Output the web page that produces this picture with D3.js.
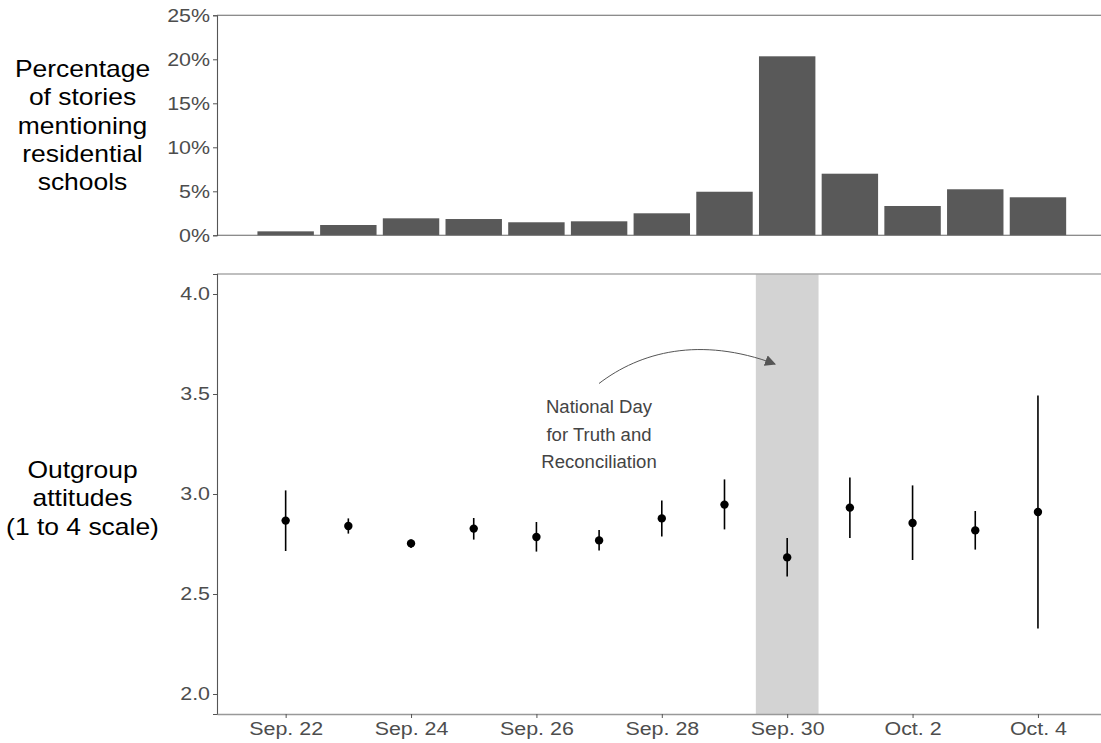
<!DOCTYPE html>
<html>
<head>
<meta charset="utf-8">
<script src="https://cdn.jsdelivr.net/npm/d3@7"></script>
<style>
  html, body { margin: 0; padding: 0; background: #fff; }
  svg { display: block; font-family: "Liberation Sans", Arial, Helvetica, sans-serif; }
</style>
</head>
<body>
<svg id="chart" width="1101" height="743"></svg>
<script>
// Days covered by both panels
const days = ["Sep. 22", "Sep. 23", "Sep. 24", "Sep. 25", "Sep. 26", "Sep. 27", "Sep. 28",
              "Sep. 29", "Sep. 30", "Oct. 1", "Oct. 2", "Oct. 3", "Oct. 4"];
const tickDays = ["Sep. 22", "Sep. 24", "Sep. 26", "Sep. 28", "Sep. 30", "Oct. 2", "Oct. 4"];

// Share of stories mentioning residential schools (%)
const storyShare = [0.45, 1.17, 1.93, 1.85, 1.48, 1.59, 2.5, 4.95, 20.34, 7.0, 3.33, 5.23, 4.32];

// Outgroup attitudes: estimate with lower / upper interval bounds
const attitude = [2.867, 2.840, 2.753, 2.827, 2.785, 2.768, 2.878, 2.947, 2.683, 2.932, 2.855, 2.818, 2.910];
const attLow   = [2.715, 2.802, 2.730, 2.772, 2.712, 2.718, 2.788, 2.823, 2.587, 2.780, 2.670, 2.722, 2.327];
const attHigh  = [3.018, 2.878, 2.773, 2.880, 2.860, 2.820, 2.968, 3.073, 2.780, 3.083, 3.043, 2.915, 3.492];

const shareTicks = [0, 5, 10, 15, 20, 25];
const attTicks = [2.0, 2.5, 3.0, 3.5, 4.0];
const holiday = "Sep. 30";

const svg = d3.select("#chart");
const left = 217;
const right = 1106.6;
const wide = 1.19;      // horizontal stretch of the tick label type
const tickFont = "18px";

// Shared horizontal scale in day units (index), with room for half-bars and padding
const xi = d3.scaleLinear().domain([-1.095, days.length - 1 + 1.095]).range([left, right]);
const x = d => xi(days.indexOf(d));
const barW = xi(0.9) - xi(0);

function styleLeftAxis(g) {
  g.select(".domain").attr("stroke", "#555").attr("stroke-width", 1.1);
  g.selectAll(".tick line").attr("stroke", "#555");
  g.selectAll(".tick text").attr("fill", "#4d4d4d").style("font-size", tickFont)
    .attr("x", -7 / wide).attr("transform", `scale(${wide},1)`);
}

// ---------- Top panel: bars ----------
const yTop = d3.scaleLinear().domain([0, 25]).range([235.3, 15.3]);

svg.append("g").selectAll("rect").data(storyShare).join("rect")
  .attr("x", (v, i) => x(days[i]) - barW / 2)
  .attr("width", barW)
  .attr("y", v => yTop(v))
  .attr("height", v => yTop(0) - yTop(v))
  .attr("fill", "#595959");

svg.append("line").attr("x1", left).attr("x2", right).attr("y1", yTop(25)).attr("y2", yTop(25))
  .attr("stroke", "#666").attr("stroke-width", 1.1);
svg.append("line").attr("x1", left).attr("x2", right).attr("y1", yTop(0)).attr("y2", yTop(0))
  .attr("stroke", "#666").attr("stroke-width", 1.1);

svg.append("g").attr("transform", `translate(${left},0)`)
  .call(d3.axisLeft(yTop).tickValues(shareTicks).tickFormat(d => d + "%").tickSize(4))
  .call(styleLeftAxis);

// ---------- Bottom panel: estimates with intervals ----------
const yBot = d3.scaleLinear().domain([1.9, 4.1]).range([714, 274]);

svg.append("rect")
  .attr("x", x(holiday) - (xi(1) - xi(0)) / 2)
  .attr("width", xi(1) - xi(0))
  .attr("y", yBot(4.1))
  .attr("height", yBot(1.9) - yBot(4.1))
  .attr("fill", "#d3d3d3");

svg.append("line").attr("x1", left).attr("x2", right).attr("y1", yBot(4.1)).attr("y2", yBot(4.1))
  .attr("stroke", "#aaa").attr("stroke-width", 1.6);

svg.append("g").attr("transform", `translate(${left},0)`)
  .call(d3.axisLeft(yBot).tickValues(attTicks).tickFormat(d3.format(".1f")).tickSize(4))
  .call(styleLeftAxis);

const axBotX = svg.append("g").attr("transform", `translate(0,${yBot(1.9)})`)
  .call(d3.axisBottom(xi).tickValues(tickDays.map(d => days.indexOf(d)))
        .tickFormat(i => days[i]).tickSize(4).tickPadding(4.3).tickSizeOuter(0));
axBotX.select(".domain").attr("stroke", "#999").attr("stroke-width", 1.6);
axBotX.selectAll(".tick line").attr("stroke", "#555");
axBotX.selectAll(".tick text").attr("fill", "#4d4d4d").style("font-size", tickFont)
  .attr("transform", `scale(${wide},1)`);

const pts = svg.append("g");
pts.selectAll("line").data(days).join("line")
  .attr("x1", d => x(d)).attr("x2", d => x(d))
  .attr("y1", (d, i) => yBot(attLow[i])).attr("y2", (d, i) => yBot(attHigh[i]))
  .attr("stroke", "#000").attr("stroke-width", 1.6);
pts.selectAll("circle").data(days).join("circle")
  .attr("cx", d => x(d)).attr("cy", (d, i) => yBot(attitude[i]))
  .attr("r", 4.2).attr("fill", "#000");

// ---------- Annotation ----------
const defs = svg.append("defs");
defs.append("marker").attr("id", "arrowHead")
  .attr("viewBox", "0 0 10 10").attr("refX", 9).attr("refY", 5)
  .attr("markerWidth", 11).attr("markerHeight", 11).attr("markerUnits", "userSpaceOnUse")
  .attr("orient", "auto")
  .append("path").attr("d", "M0,0 L10,5 L0,10 Z").attr("fill", "#555");

svg.append("path")
  .attr("d", "M599,383.5 C640,352 700,336 775,364")
  .attr("fill", "none").attr("stroke", "#555").attr("stroke-width", 1)
  .attr("marker-end", "url(#arrowHead)");

const note = svg.append("g").attr("transform", "translate(599,0) scale(1.06,1)")
  .append("text").attr("text-anchor", "middle").attr("fill", "#444").style("font-size", "17.5px");
["National Day", "for Truth and", "Reconciliation"].forEach((t, i) => {
  note.append("tspan").attr("x", 0).attr("y", 413.5 + i * 27.4).text(t);
});

// ---------- Axis titles ----------
function title(lines, y0) {
  const t = svg.append("g").attr("transform", `translate(82.5,0) scale(1.15,1)`)
    .append("text").attr("text-anchor", "middle").attr("fill", "#000").style("font-size", "23px");
  lines.forEach((s, i) => t.append("tspan").attr("x", 0).attr("y", y0 + i * 28.3).text(s));
}
title(["Percentage", "of stories", "mentioning", "residential", "schools"], 77);
title(["Outgroup", "attitudes", "(1 to 4 scale)"], 478);
</script>
</body>
</html>
